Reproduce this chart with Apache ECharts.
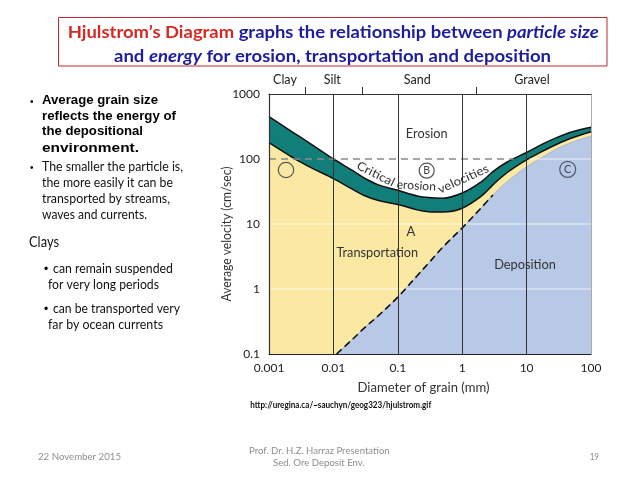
<!DOCTYPE html>
<html><head><meta charset="utf-8">
<script src="https://cdn.jsdelivr.net/npm/echarts@6/dist/echarts.min.js"></script>
<style>html,body{margin:0;padding:0;background:#fff}#c{width:638px;height:479px}</style>
</head><body><div id="c"></div>
<script>
// ---- data (grain diameter in mm, velocity in cm/s) ----
const grainSizes      = [0.001,0.002,0.003,0.005,0.01,0.02,0.03,0.05,0.1,0.2,0.3,0.5,1,2,3,5,10,20,30,50,100];
const erosionUpper    = [448,  286,  220,  158,  100, 66,  51,  40,  33, 27, 25.5,25, 30,45,64,90,126,180,215,260,307];
const erosionLower    = [178,  116,  91,   70,   50,  34,  27.5,23, 20, 16.5,15.5,15.3,17.5,27,40,62,97,140,170,210,263];
const settlingSizes   = [0.0112,0.02,0.03,0.05,0.1,0.2,0.3,0.5,1,2,3,5,10,20,30,50,100];
const settlingVelocity= [0.1,  0.17, 0.25,0.39,0.75,1.6,2.5,4.4,8.7,18,28,45,76,115,145,180,226];
const dashedUntil     = 3;
const dividerSizes    = [0.01,0.1,1,10];
const gridLevels      = [1,10];
const refVelocity     = 100;
const refDashEnd      = 6.3;
const refWhiteStart   = 11;
const xTickLabels     = ['0.001','0.01','0.1','1','10','100'];
const yTickLabels     = ['0.1','1','10','100','1000'];
const sizeClasses     = ['Clay','Silt','Sand','Gravel'];
const sizeClassCenters= [0.00177,0.0096,0.2,12.1];
const sizeClassBounds = [0.00366,0.0281,1.64];

const pairs = (xs, ys) => xs.map((x, i) => [x, ys[i]]);
const pickLabel = (arr, v) => arr.find(l => Math.abs(parseFloat(l) - v) / v < 1e-6) || '';

const ctx = document.createElement('canvas').getContext('2d');
function tw(text, font) { ctx.font = font; return ctx.measureText(text).width; }
function fontStr(o) { return `${o.style||'normal'} ${o.weight||'normal'} ${o.size}px ${o.family}`; }

function fitText(x, y, text, o, targetW, extra) {
  const f = fontStr(o);
  const s = targetW ? targetW / tw(text, f) : 1;
  return Object.assign({
    type: 'text', x: x, y: y, scaleX: s, z: 100, silent: true,
    style: { text: text, font: f, fill: o.color || '#000',
      textAlign: o.align || 'left', align: o.align || 'left',
      textVerticalAlign: 'middle', verticalAlign: 'middle' }
  }, extra || {});
}
function richLine(x, y, segs, targetW) {
  let total = 0; const rich = {}; let text = '';
  segs.forEach((s, i) => {
    const f = fontStr(s);
    total += tw(s.t, f);
    rich['s' + i] = { fill: s.color, color: s.color, font: f, fontSize: s.size, fontFamily: s.family, fontWeight: s.weight, fontStyle: s.style || 'normal' };
    text += '{s' + i + '|' + s.t + '}';
  });
  return { type: 'text', x: x, y: y, scaleX: targetW / total, z: 100, silent: true,
    style: { text: text, rich: rich, textAlign: 'left', align: 'left', textVerticalAlign: 'middle', verticalAlign: 'middle' } };
}

const RED = '#d52a22', BLUE = '#1d1d9e';
const T = { family: 'Lato', weight: 'bold', size: 17 };
const title1 = richLine(67.7, 32.3, [
  Object.assign({ t: 'Hjulstrom’s Diagram', color: RED }, T),
  Object.assign({ t: ' graphs the relationship between ', color: BLUE }, T),
  Object.assign({ t: 'particle size', color: BLUE, style: 'italic' }, T)
], 531);
const title2 = richLine(114, 56.7, [
  Object.assign({ t: 'and ', color: BLUE }, T),
  Object.assign({ t: 'energy', color: BLUE, style: 'italic' }, T),
  Object.assign({ t: ' for erosion, transportation and deposition', color: BLUE }, T)
], 437);

const B13 = { family: 'Liberation Sans', weight: 'bold', size: 13, color: '#000' };
const R13 = { family: 'Lato', size: 13, color: '#111' };
const FT = { family: 'Lato', size: 10, color: '#8e8e8e' };
const CH = { family: 'Lato', size: 13, color: '#333', align: 'center' };
const CH12 = { family: 'Lato', size: 12, color: '#333', align: 'center' };

const graphics = [
  { type: 'rect', z: 100, silent: true, shape: { x: 58.5, y: 17.5, width: 548.5, height: 48.5 }, style: { fill: 'none', stroke: '#c0282c', lineWidth: 1 } },
  title1, title2,
  fitText(30, 102, '•', { family: 'Liberation Sans', size: 10 }),
  fitText(42, 100.7, 'Average grain size', B13, 116),
  fitText(42, 116.2, 'reflects the energy of', B13, 134),
  fitText(42, 131.8, 'the depositional', B13, 101),
  fitText(42, 148.2, 'environment.', B13, 97),
  fitText(30, 168.5, '•', { family: 'Liberation Sans', size: 10 }),
  fitText(42, 167.3, 'The smaller the particle is,', R13, 141),
  fitText(42, 182.8, 'the more easily it can be', R13, 131),
  fitText(42, 198.8, 'transported by streams,', R13, 128),
  fitText(42, 215, 'waves and currents.', R13, 105),
  fitText(29, 242.3, 'Clays', { family: 'Lato', size: 15, color: '#111' }, 30),
  fitText(44, 269.5, '•', { family: 'Liberation Sans', size: 12 }),
  fitText(53, 269.3, 'can remain suspended', R13, 120),
  fitText(48, 285, 'for very long periods', R13, 111),
  fitText(44, 309.5, '•', { family: 'Liberation Sans', size: 12 }),
  fitText(53, 309.3, 'can be transported very', R13, 127),
  fitText(48, 325, 'far by ocean currents', R13, 115),
  fitText(250.3, 405.7, 'http://uregina.ca/~sauchyn/geog323/hjulstrom.gif', { family: 'Lato', weight: 'bold', size: 8.5, color: '#111' }, 181),
  fitText(38, 456.7, '22 November 2015', FT, 83),
  fitText(249, 451, 'Prof. Dr. H.Z. Harraz Presentation', FT, 140.7),
  fitText(273, 462.7, 'Sed. Ore Deposit Env.', FT, 91.7),
  fitText(589.7, 456.7, '19', FT, 9.3),
  // chart annotations
  fitText(426.7, 134.3, 'Erosion', CH, 41.7),
  fitText(375.7, 174, 'Critical', CH12, 41, { rotation: -0.47 }),
  fitText(416.3, 185.7, 'erosion', CH12, 39.3, { rotation: -0.06 }),
  fitText(463.3, 179, 'velocities', CH12, 54.5, { rotation: 0.42 }),
  { type: 'circle', z: 100, silent: true, shape: { cx: 286, cy: 170, r: 7.7 }, style: { fill: 'none', stroke: '#555', lineWidth: 1.2 } },
  { type: 'circle', z: 100, silent: true, shape: { cx: 426.7, cy: 170.7, r: 7.5 }, style: { fill: 'none', stroke: '#555', lineWidth: 1.2 } },
  fitText(426.7, 171, 'B', { family: 'Lato', size: 10.5, color: '#444', align: 'center' }),
  { type: 'circle', z: 100, silent: true, shape: { cx: 567.7, cy: 169.3, r: 8 }, style: { fill: 'none', stroke: '#556', lineWidth: 1.2 } },
  fitText(567.7, 169.6, 'C', { family: 'Lato', size: 11, color: '#445', align: 'center' }),
  fitText(411, 231.7, 'A', CH),
  fitText(377.3, 252.7, 'Transportation', CH, 81.7),
  fitText(525, 265, 'Deposition', CH, 61.7),
  fitText(227, 234, 'Average velocity (cm/sec)', CH, 135, { rotation: Math.PI / 2 }),
  fitText(423.5, 387.7, 'Diameter of grain (mm)', { family: 'Lato', size: 14, color: '#333', align: 'center' }, 132)
];

const chart = echarts.init(document.getElementById('c'), null, { renderer: 'canvas' });
const axisFont = { fontFamily: 'Lato', fontSize: 12, color: '#222' };
chart.setOption({
  animation: false,
  backgroundColor: '#fff',
  grid: { left: 269, right: 47, top: 94, bottom: 125, containLabel: false, outerBoundsMode: 'none' },
  xAxis: [
    { type: 'log', logBase: 10, min: 0.001, max: 100, position: 'bottom', z: 10,
      axisLine: { show: true, lineStyle: { color: '#222', width: 1.2 } },
      axisTick: { show: false }, splitLine: { show: false },
      axisLabel: Object.assign({ margin: 8, formatter: v => pickLabel(xTickLabels, v) }, axisFont) },
    { type: 'log', logBase: 10, min: 0.001, max: 100, position: 'top', z: 10,
      axisLine: { show: true, lineStyle: { color: '#333', width: 1 } },
      axisTick: { show: true, inside: false, length: 7, lineStyle: { color: '#333' }, customValues: sizeClassBounds },
      splitLine: { show: false },
      axisLabel: Object.assign({ margin: 8, customValues: sizeClassCenters,
        formatter: v => { let bi = 0, bd = Infinity; sizeClassCenters.forEach((c, i) => { const d = Math.abs(Math.log(c) - Math.log(v)); if (d < bd) { bd = d; bi = i; } }); return sizeClasses[bi]; } }, axisFont, { fontSize: 12.5 }) }
  ],
  yAxis: [
    { type: 'log', logBase: 10, min: 0.1, max: 1000, z: 10,
      axisLine: { show: true, lineStyle: { color: '#333', width: 1.2 } },
      axisTick: { show: false }, splitLine: { show: false },
      axisLabel: Object.assign({ margin: 9, formatter: v => pickLabel(yTickLabels, v) }, axisFont) },
    { type: 'log', logBase: 10, min: 0.1, max: 1000, position: 'right', z: 0,
      axisLine: { show: true, lineStyle: { color: '#aaa', width: 1 } },
      axisTick: { show: false }, axisLabel: { show: false }, splitLine: { show: false } }
  ],
  series: [
    { name: 'Critical erosion velocity (upper)', type: 'line', z: 1, data: pairs(grainSizes, erosionUpper),
      smooth: 0.35, symbol: 'none', lineStyle: { color: '#111', width: 1.5 },
      areaStyle: { color: '#117e7a', origin: 'start', opacity: 1 } },
    { name: 'Critical erosion velocity (lower)', type: 'line', z: 1, data: pairs(grainSizes, erosionLower),
      smooth: 0.35, symbol: 'none', lineStyle: { color: '#111', width: 1.5 },
      areaStyle: { color: '#fbe9a3', origin: 'start', opacity: 1 } },
    { name: 'Deposition', type: 'line', z: 1, data: pairs(settlingSizes, settlingVelocity),
      smooth: 0.35, symbol: 'none', lineStyle: { color: '#9fb1cf', width: 0.8 },
      areaStyle: { color: '#b7c9e7', origin: 'start', opacity: 1 },
      markLine: { silent: true, symbol: ['none', 'none'], animation: false, z: 6,
        label: { show: false }, lineStyle: { color: '#333', width: 1, type: 'solid' },
        data: dividerSizes.map(v => ({ xAxis: v })) } },
    ...gridLevels.map(g => ({ name: 'grid ' + g, type: 'line', z: 2, symbol: 'none', silent: true,
      data: [[0.001, g], [100, g]], lineStyle: { color: 'rgba(255,255,255,0.75)', width: 1 } })),
    { name: 'grid 100', type: 'line', z: 2, symbol: 'none', silent: true,
      data: [[refWhiteStart, refVelocity], [100, refVelocity]], lineStyle: { color: 'rgba(255,255,255,0.75)', width: 1 } },
    { name: 'ref 100', type: 'line', z: 3, symbol: 'none', silent: true,
      data: [[0.001, refVelocity], [refDashEnd, refVelocity]], lineStyle: { color: '#8a8a8a', width: 1.3, type: [7, 5] } },
    { name: 'Settling velocity', type: 'line', z: 3, symbol: 'none', silent: true, smooth: 0.35,
      data: pairs(settlingSizes, settlingVelocity).filter(p => p[0] <= dashedUntil),
      lineStyle: { color: '#111', width: 1.6, type: [7, 4] } }
  ],
  graphic: { elements: graphics }
});
</script></body></html>
